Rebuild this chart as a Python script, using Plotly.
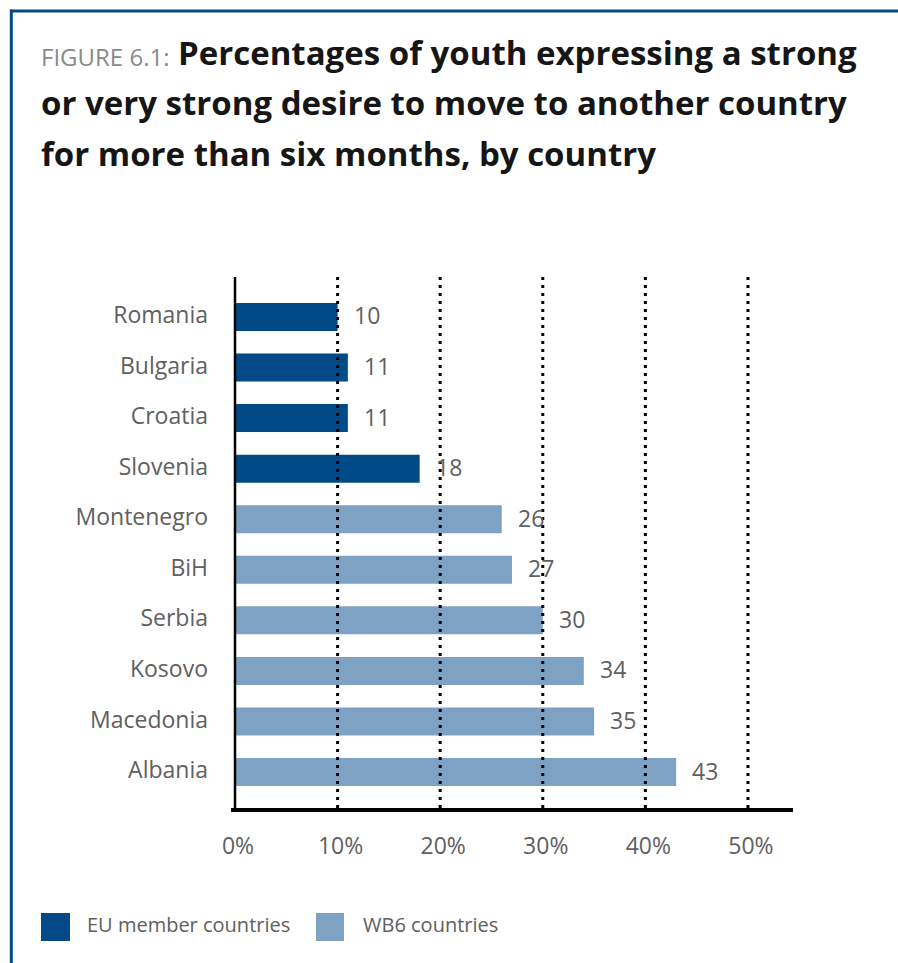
import plotly.graph_objects as go

# Data
eu_countries = ["Romania", "Bulgaria", "Croatia", "Slovenia"]
eu_values = [10, 11, 11, 18]
wb6_countries = ["Montenegro", "BiH", "Serbia", "Kosovo", "Macedonia", "Albania"]
wb6_values = [26, 27, 30, 34, 35, 43]
x_tick_values = [0, 10, 20, 30, 40, 50]
x_tick_labels = ["0%", "10%", "20%", "30%", "40%", "50%"]
group_names = ["EU member countries", "WB6 countries"]

# Styling
EU_COLOR = "#004a87"
WB6_COLOR = "#7ea2c4"
LABEL_GREY = "#606060"
FONT = "Open Sans"

W, H = 898, 963
L, R, T, B = 231, 105, 277, 155
PW, PH = W - L - R, H - T - B


def px(xp):
    return (xp - L) / PW


def py(yp):
    return 1 - (yp - T) / PH


categories = eu_countries + wb6_countries

fig = go.Figure()
fig.add_trace(go.Bar(
    y=eu_countries, x=eu_values, orientation="h", name=group_names[0],
    marker=dict(color=EU_COLOR, line=dict(width=0)), width=0.554,
    showlegend=False, hoverinfo="x+y",
))
fig.add_trace(go.Bar(
    y=wb6_countries, x=wb6_values, orientation="h", name=group_names[1],
    marker=dict(color=WB6_COLOR, line=dict(width=0)), width=0.554,
    showlegend=False, hoverinfo="x+y",
))

annotations = []
# value labels next to each bar
for cats, vals in ((eu_countries, eu_values), (wb6_countries, wb6_values)):
    for c, v in zip(cats, vals):
        annotations.append(dict(
            x=v, y=c, xref="x", yref="y", text=str(v), showarrow=False,
            xanchor="left", yanchor="middle", xshift=14, yshift=1.5,
            font=dict(family=FONT, size=23, color=LABEL_GREY),
        ))

# title block
title_font = dict(family=FONT, size=33, color="#161616", weight="bold")
annotations.append(dict(
    x=px(39), y=py(65.7 - 9.3), xref="paper", yref="paper",
    text="FIGURE 6.1:", showarrow=False, xanchor="left", yanchor="middle",
    font=dict(family=FONT, size=24, color="#8a8a8a"),
))
title_lines = [
    (176, 65.7, "Percentages of youth expressing a strong"),
    (39, 115.7, "or very strong desire to move to another country"),
    (39, 166.0, "for more than six months, by country"),
]
for xl, base, txt in title_lines:
    annotations.append(dict(
        x=px(xl), y=py(base - 12.8), xref="paper", yref="paper",
        text=txt, showarrow=False, xanchor="left", yanchor="middle",
        font=title_font,
    ))

shapes = []
# dotted vertical gridlines drawn over the bars
for v in x_tick_values[1:]:
    shapes.append(dict(
        type="line", xref="x", yref="paper", x0=v, x1=v, y0=0, y1=1,
        line=dict(color="black", width=3, dash="3px,5px"), layer="above",
    ))
# category axis line at zero
shapes.append(dict(
    type="line", xref="x", yref="paper", x0=0, x1=0, y0=0, y1=1,
    line=dict(color="black", width=2.5), layer="above",
))

# legend swatches and labels
legend_items = [(41, 70, 85, group_names[0], EU_COLOR),
                (316, 344, 361, group_names[1], WB6_COLOR)]
for x0, x1, xt, name, col in legend_items:
    shapes.append(dict(
        type="rect", xref="paper", yref="paper",
        x0=px(x0), x1=px(x1), y0=py(941), y1=py(913),
        fillcolor=col, line=dict(width=0), layer="above",
    ))
    annotations.append(dict(
        x=px(xt), y=py(924.5), xref="paper", yref="paper", text=name,
        showarrow=False, xanchor="left", yanchor="middle",
        font=dict(family=FONT, size=20, color=LABEL_GREY),
    ))

# blue frame: top and left rules
shapes.append(dict(
    type="line", xref="paper", yref="paper",
    x0=px(10), x1=px(W), y0=py(11), y1=py(11),
    line=dict(color=EU_COLOR, width=3), layer="above",
))
shapes.append(dict(
    type="line", xref="paper", yref="paper",
    x0=px(11.3), x1=px(11.3), y0=py(9.5), y1=py(H),
    line=dict(color=EU_COLOR, width=3), layer="above",
))

fig.update_layout(
    width=W, height=H,
    margin=dict(l=L, r=R, t=T, b=B, pad=0),
    paper_bgcolor="white", plot_bgcolor="white",
    barmode="overlay",
    font=dict(family=FONT, color=LABEL_GREY),
    xaxis=dict(
        range=[-0.39, 54.39], tickvals=x_tick_values, ticktext=x_tick_labels,
        showgrid=False, zeroline=False, showline=True, linecolor="black",
        linewidth=4, ticks="", ticklabelstandoff=14, ticklabelshift=3,
        tickfont=dict(family=FONT, size=23, color=LABEL_GREY),
        fixedrange=True,
    ),
    yaxis=dict(
        type="category", categoryorder="array", categoryarray=categories,
        range=[9.712, -0.791], showgrid=False, zeroline=False,
        showline=False, ticks="", ticklabelstandoff=22, ticklabelshift=2,
        tickfont=dict(family=FONT, size=23, color=LABEL_GREY),
        fixedrange=True,
    ),
    annotations=annotations,
    shapes=shapes,
)

fig.write_html("out.html")
